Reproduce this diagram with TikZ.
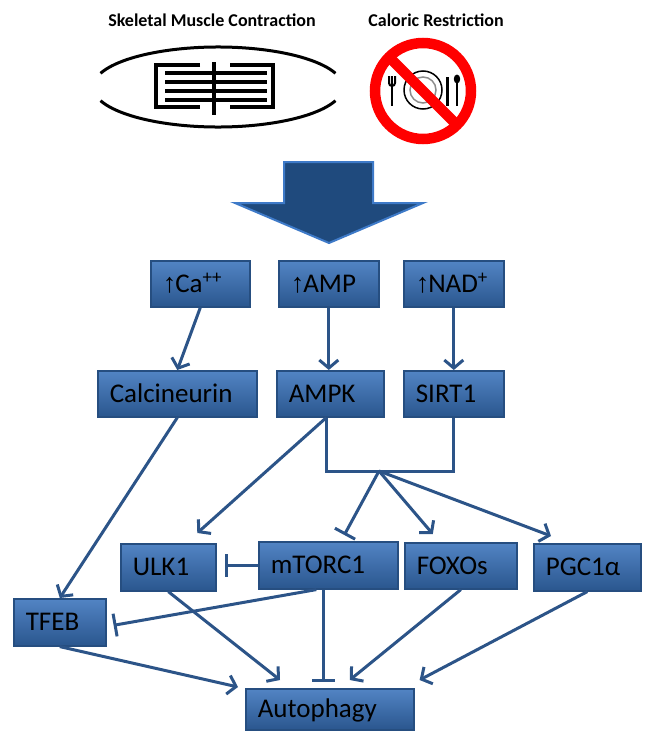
\documentclass[tikz,border=0pt]{standalone}
\usepackage{fontspec}
\setmainfont{Carlito}
\newfontfamily\arrowfont{Liberation Sans}
\usetikzlibrary{arrows.meta,calc}
\definecolor{boxtop}{RGB}{82,132,196}
\definecolor{boxbot}{RGB}{42,86,142}
\definecolor{boxline}{RGB}{38,78,128}
\definecolor{connc}{RGB}{44,84,136}
\definecolor{arrfill}{RGB}{31,74,125}
\definecolor{arredge}{RGB}{62,122,200}
\definecolor{nored}{RGB}{255,0,0}
\newcommand\uparw{{\arrowfont\bfseries ↑}\kern-1pt}
\newcommand\flowbox[6]{%
  \pgfmathsetmacro\fbw{#4-#2}\pgfmathsetmacro\fbh{#5-#3}\pgfmathsetmacro\fbt{#4-#2-24}%
  \node[box, minimum width=\fbw pt, minimum height=\fbh pt, text width=\fbt pt, anchor=north west] (#1) at (#2,#3) {\mbox{#6}};}
\begin{document}
\begin{tikzpicture}[x=1pt,y=-1pt,
  box/.style={draw=boxline, line width=1.6pt, top color=boxtop, bottom color=boxbot,
    inner xsep=12pt, inner ysep=0pt, align=left, text height=19pt, text depth=2pt,
    font=\fontsize{27}{30}\selectfont},
  conn/.style={draw=connc, line width=3pt},
  act/.style={conn, -{Straight Barb[length=8pt,width=19pt]}},
  inh/.style={conn, -{Bar[width=23pt]}},
  titletext/.style={font=\bfseries\fontsize{18}{20}\selectfont, inner sep=0pt},
  ink/.style={line width=3pt, black},
  fil/.style={line width=3.6pt, black},
]
\useasboundingbox (0,0) rectangle (646,731);

% titles
\node[titletext] (t1) at (212,20) {Skeletal Muscle Contraction};
\node[titletext] (t2) at (436,20) {Caloric Restriction};

% muscle fibre
\draw[ink] (218,87) ++(20:125 and 40) arc[start angle=20, end angle=160, x radius=125, y radius=40];
\draw[ink] (218,87) ++(200:125 and 40) arc[start angle=200, end angle=340, x radius=125, y radius=40];
\draw[fil] (200,65) -- (156,65) -- (156,107) -- (200,107);
\draw[fil] (230,65) -- (273,65) -- (273,107) -- (230,107);
\draw[fil] (214,62) -- (214,115);
\foreach \yy in {73,82,91,100} \draw[fil] (165,\yy) -- (267,\yy);

% no food sign
\draw[black, line width=1.5pt] (423,90) circle[radius=19];
\draw[black!45, line width=1.5pt] (423,90) circle[radius=13];
\draw[black, line width=2.5pt] (392,86) -- (392,106);
\draw[black, line width=2pt] (389,76) -- (389,83) arc[start angle=180, end angle=0, radius=3] -- (395,76);
\draw[black, line width=2pt] (392,76) -- (392,86);
\draw[black, line width=3pt] (447,77) -- (447,106);
\fill[black] (457,79) ellipse[x radius=3.2, y radius=4.5];
\draw[black, line width=2.5pt] (457,82) -- (457,106);
\draw[nored, line width=10.5pt] (423,91) circle[radius=48];
\draw[nored, line width=10.5pt] (389,57) -- (457,125);

% big arrow
\draw[arredge, fill=arrfill, line width=2pt, line join=miter]
  (284,162) -- (373,162) -- (373,203) -- (423,203) -- (329,243) -- (235,203) -- (284,203) -- cycle;

% boxes
\flowbox{ca}{150}{260}{249}{306}{\uparw Ca\textsuperscript{++}}
\flowbox{amp}{278}{260}{378}{306}{\uparw AMP}
\flowbox{nad}{403}{260}{503}{306}{\uparw NAD\textsuperscript{+}}
\flowbox{calc}{97}{370}{256}{416}{Calcineurin}
\flowbox{ampk}{276}{370}{383}{416}{AMPK}
\flowbox{sirt}{403}{370}{503}{416}{SIRT1}
\flowbox{ulk}{120}{543}{215}{590}{ULK1}
\flowbox{mtor}{258}{541}{397}{588}{mTORC1}
\flowbox{foxo}{404}{542}{516}{588}{FOXOs}
\flowbox{pgc}{533}{543}{640}{590}{PGC1α}
\flowbox{tfeb}{13}{598}{105}{645}{TFEB}
\flowbox{auto}{245}{688}{413}{729}{Autophagy}

\coordinate (ampkout) at ($(ampk.south)+(-4,0)$);
\coordinate (hub) at (379,471);

% connectors
\draw[act] (ca.south) -- (calc.north);
\draw[act] (amp.south) -- (amp.south |- ampk.north);
\draw[act] (nad.south) -- (nad.south |- sirt.north);
\draw[conn, line join=miter] (ampkout) |- (hub) -| (sirt.south);
\draw[act] (ampkout) -- ($(ulk.north)+(29,-10)$);
\draw[act] (calc.south) -- (tfeb.north);
\draw[inh] (hub) -- ($(mtor.north)+(16,-6)$);
\draw[act] (hub) -- ($(foxo.north)+(-28,-8)$);
\draw[act] (hub) -- ($(pgc.north west)+(18,-7)$);
\draw[inh] (mtor.west) -- ($(mtor.west -| ulk.east)+(8,0)$);
\draw[inh] ($(mtor.south)+(-12,0)$) -- ($(tfeb.east)+(7,3)$);
\draw[inh] ($(mtor.south)+(-5,0)$) -- ($(mtor.south |- auto.north)+(-5,-6)$);
\draw[act] (ulk.south) -- ($(auto.north west)+(35,-8)$);
\draw[act] (tfeb.south) -- ($(auto.north west)+(-7,-1)$);
\draw[act] (foxo.south) -- ($(auto.north)+(20,-8)$);
\draw[act] (pgc.south) -- ($(auto.north east)+(5,-8)$);
\end{tikzpicture}
\end{document}
